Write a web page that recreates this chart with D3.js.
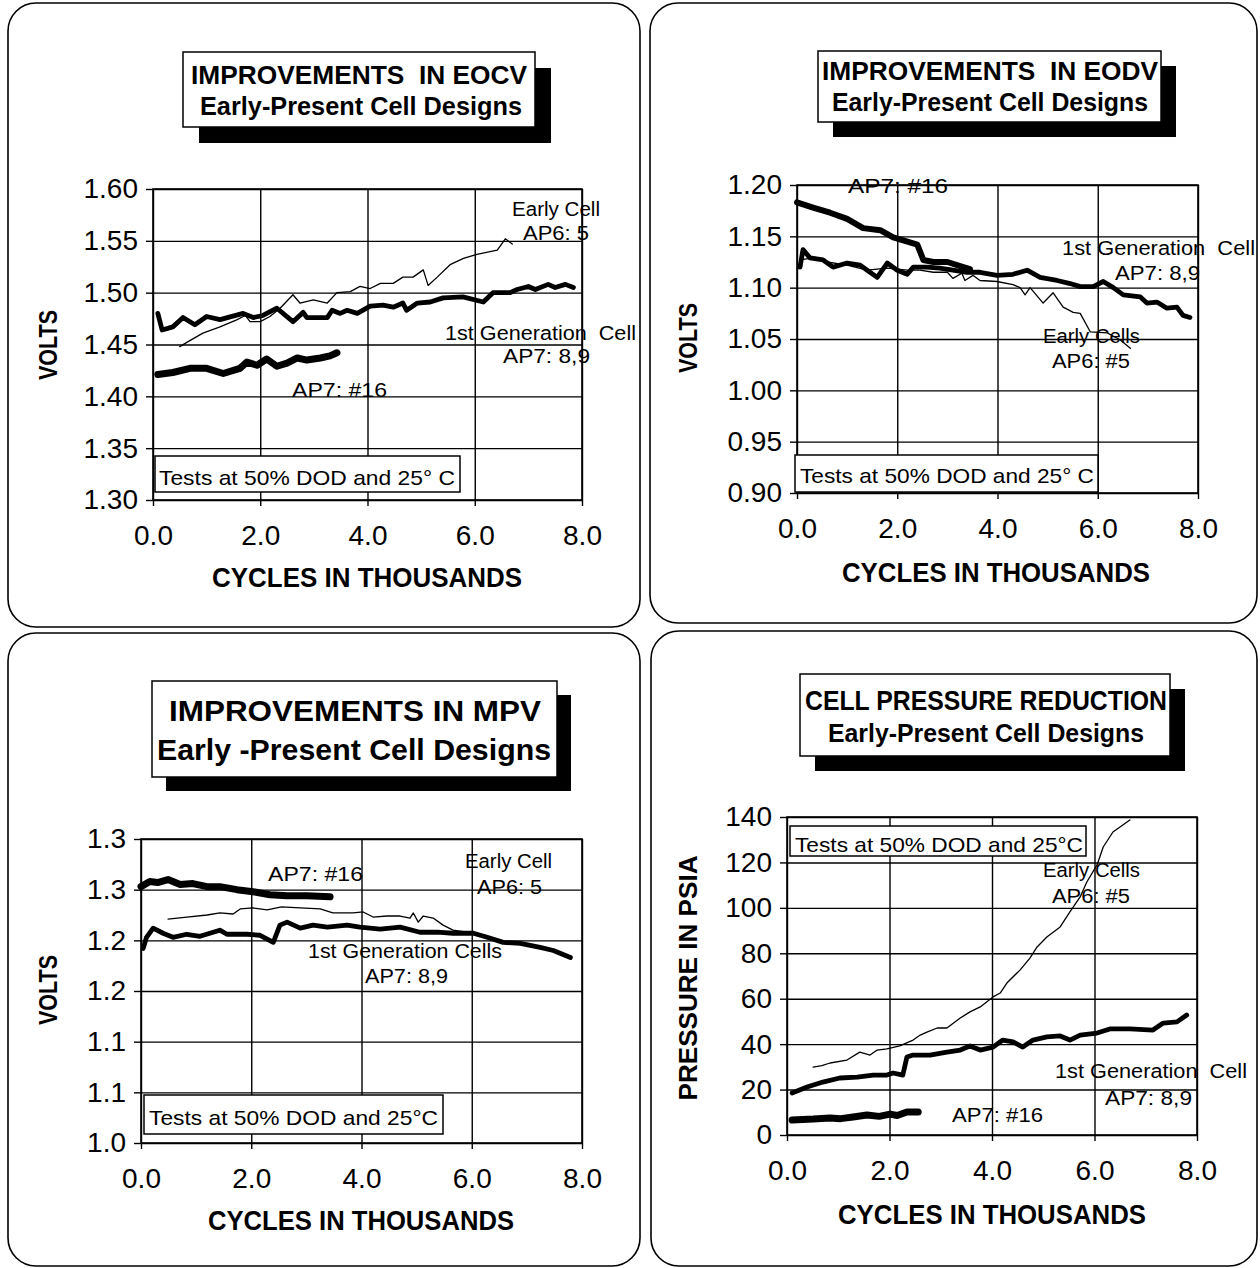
<!DOCTYPE html>
<html><head><meta charset="utf-8">
<script src="https://cdn.jsdelivr.net/npm/d3@7"></script>
<style>body{margin:0;background:#fff}svg{display:block}text{white-space:pre}</style>
</head><body><svg id="c" width="1260" height="1268"></svg>
<script>
// ---------- DATA ----------
const xTicks = [0, 2, 4, 6, 8];
const xTickLabels = ["0.0", "2.0", "4.0", "6.0", "8.0"];

const eocvTicks = [1.30, 1.35, 1.40, 1.45, 1.50, 1.55, 1.60];
const eocvTickLabels = ["1.30", "1.35", "1.40", "1.45", "1.50", "1.55", "1.60"];
const eodvTicks = [0.90, 0.95, 1.00, 1.05, 1.10, 1.15, 1.20];
const eodvTickLabels = ["0.90", "0.95", "1.00", "1.05", "1.10", "1.15", "1.20"];
const mpvTicks = [1.00, 1.05, 1.10, 1.15, 1.20, 1.25, 1.30];
const mpvTickLabels = ["1.0", "1.1", "1.1", "1.2", "1.2", "1.3", "1.3"];
const psiTicks = [0, 20, 40, 60, 80, 100, 120, 140];
const psiTickLabels = ["0", "20", "40", "60", "80", "100", "120", "140"];

// EOCV (volts) : [cycles in thousands, value]
const eocvEarly = [[0.50,1.448],[0.63,1.452],[0.93,1.461],[1.25,1.467],[1.57,1.474],[1.72,1.478],[1.81,1.472],[2.0,1.472],[2.18,1.477],[2.37,1.485],[2.61,1.498],[2.74,1.490],[2.99,1.493],[3.25,1.490],[3.43,1.500],[3.68,1.501],[3.86,1.506],[4.05,1.504],[4.24,1.509],[4.48,1.509],[4.66,1.515],[4.85,1.515],[5.04,1.522],[5.13,1.507],[5.30,1.515],[5.54,1.527],[5.79,1.533],[6.04,1.537],[6.42,1.541],[6.57,1.552],[6.70,1.547]];
const eocvGen1 = [[0.09,1.480],[0.17,1.464],[0.37,1.467],[0.56,1.476],[0.78,1.469],[1.0,1.477],[1.25,1.474],[1.68,1.480],[1.87,1.476],[2.05,1.478],[2.31,1.485],[2.61,1.472],[2.80,1.481],[2.87,1.476],[3.25,1.476],[3.34,1.483],[3.49,1.480],[3.62,1.483],[3.81,1.480],[4.05,1.487],[4.29,1.488],[4.48,1.486],[4.66,1.490],[4.73,1.483],[4.93,1.490],[5.17,1.491],[5.41,1.495],[5.78,1.496],[6.16,1.491],[6.34,1.500],[6.66,1.500],[6.79,1.503],[7.0,1.506],[7.13,1.503],[7.37,1.508],[7.5,1.505],[7.69,1.508],[7.84,1.505]];
const eocvAp16 = [[0.09,1.421],[0.37,1.423],[0.69,1.427],[1.0,1.427],[1.31,1.422],[1.62,1.427],[1.75,1.433],[1.94,1.430],[2.12,1.436],[2.31,1.429],[2.50,1.432],[2.69,1.437],[2.87,1.435],[3.12,1.437],[3.30,1.439],[3.43,1.442]];

// EODV (volts)
const eodvAp16 = [[0.0,1.183],[0.32,1.178],[0.66,1.173],[1.0,1.167],[1.32,1.158],[1.66,1.156],[1.92,1.149],[2.12,1.146],[2.40,1.142],[2.52,1.127],[2.72,1.125],[3.0,1.125],[3.32,1.120],[3.45,1.118]];
const eodvGen1 = [[0.06,1.120],[0.12,1.137],[0.26,1.129],[0.52,1.127],[0.72,1.120],[1.0,1.124],[1.26,1.122],[1.40,1.117],[1.60,1.110],[1.80,1.124],[2.0,1.117],[2.20,1.113],[2.32,1.120],[2.59,1.120],[2.85,1.119],[3.11,1.117],[3.39,1.115],[3.65,1.115],[3.99,1.112],[4.31,1.113],[4.59,1.117],[4.85,1.110],[5.19,1.107],[5.45,1.104],[5.65,1.101],[5.91,1.101],[6.11,1.106],[6.31,1.100],[6.51,1.093],[6.85,1.091],[6.98,1.085],[7.18,1.086],[7.38,1.080],[7.58,1.081],[7.70,1.073],[7.84,1.071]];
const eodvEarly = [[0.06,1.127],[0.32,1.129],[0.60,1.125],[1.0,1.122],[1.4,1.117],[1.8,1.119],[2.2,1.117],[2.45,1.117],[2.72,1.115],[3.0,1.115],[3.11,1.109],[3.29,1.114],[3.35,1.107],[3.51,1.112],[3.65,1.107],[3.99,1.106],[4.31,1.103],[4.45,1.100],[4.55,1.093],[4.65,1.100],[4.91,1.085],[5.11,1.095],[5.31,1.081],[5.51,1.076],[5.65,1.075],[5.85,1.057],[6.19,1.056],[6.45,1.049],[6.65,1.041]];

// MPV (volts)
const mpvAp16 = [[0.0,1.253],[0.16,1.258],[0.30,1.257],[0.49,1.260],[0.71,1.255],[0.94,1.256],[1.2,1.253],[1.43,1.253],[1.74,1.250],[2.03,1.248],[2.34,1.245],[2.65,1.244],[3.01,1.244],[3.43,1.243]];
const mpvEarly = [[0.49,1.221],[0.83,1.223],[1.2,1.225],[1.43,1.227],[1.67,1.226],[1.80,1.231],[2.03,1.232],[2.29,1.230],[2.55,1.233],[2.89,1.232],[3.25,1.231],[3.48,1.227],[3.85,1.227],[4.03,1.228],[4.21,1.223],[4.46,1.224],[4.70,1.224],[4.88,1.222],[4.94,1.227],[5.03,1.218],[5.12,1.224],[5.30,1.222],[5.48,1.215],[5.66,1.210],[5.92,1.208]];
const mpvGen1 = [[0.04,1.192],[0.10,1.203],[0.22,1.212],[0.40,1.207],[0.58,1.203],[0.83,1.206],[1.07,1.204],[1.25,1.207],[1.43,1.210],[1.56,1.206],[1.92,1.206],[2.16,1.205],[2.40,1.198],[2.52,1.215],[2.65,1.218],[2.89,1.212],[3.12,1.215],[3.38,1.213],[3.74,1.215],[3.97,1.213],[4.34,1.211],[4.70,1.213],[5.06,1.208],[5.37,1.208],[5.66,1.207],[6.03,1.207],[6.28,1.203],[6.57,1.198],[6.88,1.197],[7.24,1.193],[7.48,1.190],[7.79,1.183]];

// Cell pressure (psia)
const psiEarly = [[0.51,29.9],[0.68,30.5],[0.84,31.7],[1.17,33.0],[1.42,36.5],[1.62,35.2],[1.76,37.4],[1.95,37.9],[2.2,39.2],[2.46,41.8],[2.6,44.0],[2.73,45.3],[2.93,47.1],[3.12,47.1],[3.38,51.5],[3.57,54.2],[3.77,56.4],[4.02,60.8],[4.16,62.5],[4.29,66.9],[4.55,72.7],[4.74,77.9],[4.88,82.8],[5.07,87.2],[5.33,91.6],[5.52,98.2],[5.72,104.8],[5.85,111.4],[6.05,118.9],[6.17,126.8],[6.36,133.4],[6.69,138.7]];
const psiGen1 = [[0.1,18.5],[0.39,21.1],[0.70,23.3],[1.03,25.1],[1.37,25.5],[1.68,26.4],[1.95,26.4],[2.07,27.3],[2.26,26.4],[2.34,34.3],[2.46,35.2],[2.79,35.2],[3.12,36.5],[3.38,37.4],[3.57,39.2],[3.77,37.4],[4.02,38.7],[4.21,41.8],[4.41,41.0],[4.6,38.7],[4.80,41.8],[5.07,43.2],[5.33,43.6],[5.52,41.8],[5.72,44.0],[6.05,44.9],[6.30,46.7],[6.69,46.7],[7.14,46.2],[7.34,49.3],[7.61,49.8],[7.80,52.8]];
const psiAp16 = [[0.1,6.6],[0.51,7.0],[0.84,7.5],[1.05,7.2],[1.29,7.9],[1.56,8.8],[1.8,8.2],[2.01,9.2],[2.15,8.6],[2.34,10.1],[2.56,10.1]];

// ---------- LAYOUT ----------
const BOLD = "'Liberation Sans Narrow','Liberation Sans',Arial,sans-serif";
const REG = "'Liberation Sans',Arial,sans-serif";

const panels = [
  {
    frame: [8, 3, 632, 624],
    xr: [153, 582], yr: [500, 189], yd: [1.30, 1.60], yt: eocvTicks, ytl: eocvTickLabels,
    title: { box: [183, 52, 352, 75], sh: 16, lines: [
      { t: "IMPROVEMENTS  IN EOCV", x: 359, y: 84, w: 336, fs: 26 },
      { t: "Early-Present Cell Designs", x: 361, y: 115, w: 322, fs: 25 }] },
    yTitle: { t: "VOLTS", x: 57, y: 345, w: 70 },
    xTitle: { t: "CYCLES IN THOUSANDS", x: 367, y: 587, w: 310 },
    note: { box: [155, 456, 305, 36], t: "Tests at 50% DOD and 25° C", x: 159, y: 485, w: 296 },
    series: [{ d: eocvEarly, w: 1.3 }, { d: eocvGen1, w: 4.8 }, { d: eocvAp16, w: 7 }],
    labels: [
      { t: "Early Cell", x: 512, y: 216, w: 88 },
      { t: "AP6: 5", x: 523, y: 240, w: 66 },
      { t: "1st Generation  Cell", x: 445, y: 340, w: 191 },
      { t: "AP7: 8,9", x: 503, y: 363, w: 87 },
      { t: "AP7: #16", x: 292, y: 397, w: 95 }]
  },
  {
    frame: [650, 3, 607, 620],
    xr: [797, 1198], yr: [493, 185], yd: [0.90, 1.20], yt: eodvTicks, ytl: eodvTickLabels,
    title: { box: [818, 51, 343, 71], sh: 15, lines: [
      { t: "IMPROVEMENTS  IN EODV", x: 990, y: 80, w: 336, fs: 26 },
      { t: "Early-Present Cell Designs", x: 990, y: 111, w: 316, fs: 25 }] },
    yTitle: { t: "VOLTS", x: 697, y: 338, w: 70 },
    xTitle: { t: "CYCLES IN THOUSANDS", x: 996, y: 582, w: 308 },
    note: { box: [795, 455, 303, 37], t: "Tests at 50% DOD and 25° C", x: 800, y: 483, w: 294 },
    series: [{ d: eodvEarly, w: 1.3 }, { d: eodvGen1, w: 4.8 }, { d: eodvAp16, w: 6 }],
    labels: [
      { t: "AP7: #16", x: 848, y: 193, w: 100 },
      { t: "1st Generation  Cell", x: 1062, y: 255, w: 193 },
      { t: "AP7: 8,9", x: 1115, y: 280, w: 85 },
      { t: "Early Cells", x: 1043, y: 343, w: 97 },
      { t: "AP6: #5", x: 1052, y: 368, w: 78 }]
  },
  {
    frame: [8, 633, 632, 633],
    xr: [141, 582], yr: [1143, 839], yd: [1.00, 1.30], yt: mpvTicks, ytl: mpvTickLabels,
    title: { box: [152, 681, 405, 96], sh: 14, lines: [
      { t: "IMPROVEMENTS IN MPV", x: 355, y: 721, w: 372, fs: 30 },
      { t: "Early -Present Cell Designs", x: 354, y: 760, w: 394, fs: 30 }] },
    yTitle: { t: "VOLTS", x: 57, y: 990, w: 70 },
    xTitle: { t: "CYCLES IN THOUSANDS", x: 361, y: 1230, w: 306 },
    note: { box: [144, 1095, 299, 39], t: "Tests at 50% DOD and 25°C", x: 149, y: 1125, w: 289 },
    series: [{ d: mpvEarly, w: 1.3 }, { d: mpvGen1, w: 4.8 }, { d: mpvAp16, w: 7 }],
    labels: [
      { t: "AP7: #16", x: 268, y: 881, w: 95 },
      { t: "Early Cell", x: 465, y: 868, w: 87 },
      { t: "AP6: 5", x: 477, y: 894, w: 65 },
      { t: "1st Generation Cells", x: 308, y: 958, w: 194 },
      { t: "AP7: 8,9", x: 365, y: 983, w: 83 }]
  },
  {
    frame: [651, 631, 606, 635],
    xr: [787, 1197], yr: [1135, 817], yd: [0, 140], yt: psiTicks, ytl: psiTickLabels,
    title: { box: [800, 674, 370, 82], sh: 15, lines: [
      { t: "CELL PRESSURE REDUCTION", x: 986, y: 710, w: 362, fs: 28 },
      { t: "Early-Present Cell Designs", x: 986, y: 742, w: 316, fs: 25 }] },
    yTitle: { t: "PRESSURE IN PSIA", x: 697, y: 978, w: 245 },
    xTitle: { t: "CYCLES IN THOUSANDS", x: 992, y: 1224, w: 308 },
    note: { box: [790, 826, 296, 30], t: "Tests at 50% DOD and 25°C", x: 795, y: 852, w: 288 },
    series: [{ d: psiEarly, w: 1.3 }, { d: psiGen1, w: 4.8 }, { d: psiAp16, w: 7 }],
    labels: [
      { t: "Early Cells", x: 1043, y: 877, w: 97 },
      { t: "AP6: #5", x: 1052, y: 903, w: 78 },
      { t: "1st Generation  Cell", x: 1055, y: 1078, w: 192 },
      { t: "AP7: 8,9", x: 1105, y: 1105, w: 87 },
      { t: "AP7: #16", x: 952, y: 1122, w: 91 }]
  }
];

// ---------- DRAW ----------
const svg = d3.select("#c");
svg.append("rect").attr("width", 1260).attr("height", 1268).attr("fill", "#fff");

function txt(g, o, font, weight, size, anchor) {
  return g.append("text")
    .attr("x", o.x).attr("y", o.y)
    .attr("font-family", font).attr("font-weight", weight).attr("font-size", size)
    .attr("text-anchor", anchor || "start")
    .attr("textLength", o.w).attr("lengthAdjust", "spacingAndGlyphs")
    .attr("xml:space", "preserve")
    .attr("fill", "#000").text(o.t);
}

panels.forEach(p => {
  const g = svg.append("g");
  const [fx, fy, fw, fh] = p.frame;
  g.append("rect").attr("x", fx).attr("y", fy).attr("width", fw).attr("height", fh)
    .attr("rx", 28).attr("ry", 28).attr("fill", "none").attr("stroke", "#000").attr("stroke-width", 1.6);

  const x = d3.scaleLinear().domain([0, 8]).range(p.xr);
  const y = d3.scaleLinear().domain(p.yd).range(p.yr);
  const pw = p.xr[1] - p.xr[0], ph = p.yr[0] - p.yr[1];

  // grid
  g.append("g").attr("transform", `translate(${p.xr[0]},0)`)
    .call(d3.axisLeft(y).tickValues(p.yt).tickSize(-pw).tickFormat(""))
    .call(s => s.select(".domain").remove())
    .call(s => s.selectAll("line").attr("stroke", "#000").attr("stroke-width", 1.4));
  g.append("g").attr("transform", `translate(0,${p.yr[0]})`)
    .call(d3.axisBottom(x).tickValues(xTicks).tickSize(-ph).tickFormat(""))
    .call(s => s.select(".domain").remove())
    .call(s => s.selectAll("line").attr("stroke", "#000").attr("stroke-width", 1.4));
  g.append("rect").attr("x", p.xr[0]).attr("y", p.yr[1]).attr("width", pw).attr("height", ph)
    .attr("fill", "none").attr("stroke", "#000").attr("stroke-width", 1.6);

  // axes with labels
  g.append("g").attr("transform", `translate(${p.xr[0]},0)`)
    .call(d3.axisLeft(y).tickValues(p.yt).tickSize(7).tickPadding(8)
      .tickFormat((d, i) => p.ytl[i]))
    .call(s => s.select(".domain").remove())
    .call(s => s.selectAll("line").attr("stroke", "#000").attr("stroke-width", 1.4))
    .call(s => s.selectAll("text").attr("font-family", REG).attr("font-size", 28).attr("fill", "#000"));
  g.append("g").attr("transform", `translate(0,${p.yr[0]})`)
    .call(d3.axisBottom(x).tickValues(xTicks).tickSize(6).tickPadding(19)
      .tickFormat((d, i) => xTickLabels[i]))
    .call(s => s.select(".domain").remove())
    .call(s => s.selectAll("line").attr("stroke", "#000").attr("stroke-width", 1.4))
    .call(s => s.selectAll("text").attr("font-family", REG).attr("font-size", 28).attr("fill", "#000"));

  // note box
  const nb = p.note.box;
  g.append("rect").attr("x", nb[0]).attr("y", nb[1]).attr("width", nb[2]).attr("height", nb[3])
    .attr("fill", "#fff").attr("stroke", "#000").attr("stroke-width", 1.5);
  txt(g, p.note, REG, "normal", 21);

  // series
  const line = d3.line().x(d => x(d[0])).y(d => y(d[1]));
  p.series.forEach(s => {
    g.append("path").attr("d", line(s.d)).attr("fill", "none").attr("stroke", "#000")
      .attr("stroke-width", s.w).attr("stroke-linejoin", "round").attr("stroke-linecap", "round");
  });

  // series labels
  p.labels.forEach(l => txt(g, l, REG, "normal", 20));

  // title box with shadow
  const tb = p.title.box;
  g.append("rect").attr("x", tb[0] + p.title.sh).attr("y", tb[1] + p.title.sh)
    .attr("width", tb[2]).attr("height", tb[3]).attr("fill", "#000");
  g.append("rect").attr("x", tb[0]).attr("y", tb[1]).attr("width", tb[2]).attr("height", tb[3])
    .attr("fill", "#fff").attr("stroke", "#000").attr("stroke-width", 1.5);
  p.title.lines.forEach(l => txt(g, l, BOLD, "bold", l.fs, "middle"));

  // axis titles
  txt(g, p.xTitle, BOLD, "bold", 27, "middle");
  const yt = p.yTitle;
  g.append("text").attr("transform", `translate(${yt.x},${yt.y}) rotate(-90)`)
    .attr("font-family", BOLD).attr("font-weight", "bold").attr("font-size", 26)
    .attr("text-anchor", "middle").attr("textLength", yt.w).attr("lengthAdjust", "spacingAndGlyphs")
    .attr("fill", "#000").text(yt.t);
});
</script>
</body></html>
